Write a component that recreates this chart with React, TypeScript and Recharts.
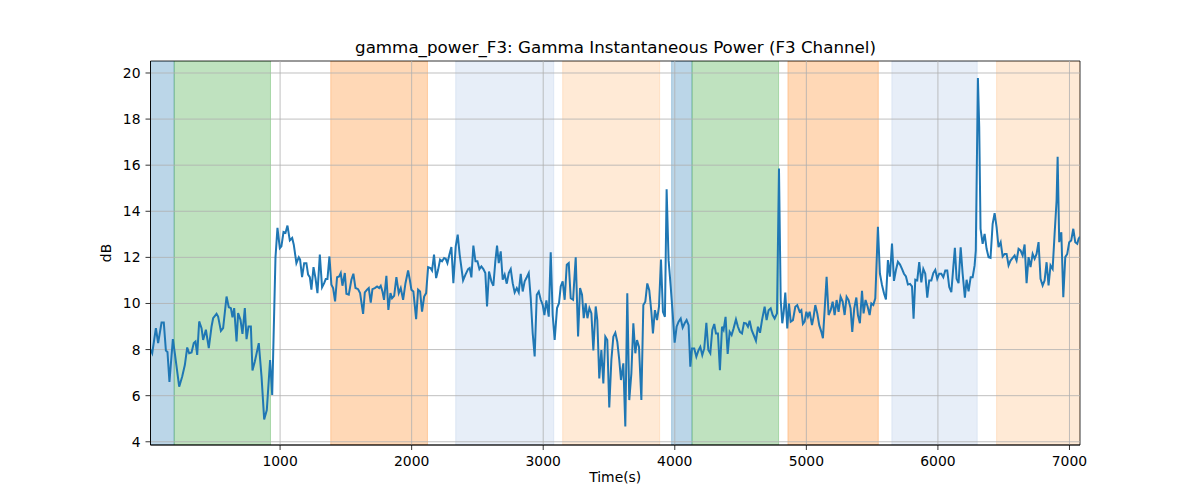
import React from 'react';
import { LineChart, Line, XAxis, YAxis, ReferenceArea, ReferenceLine } from 'recharts';

// time axis (seconds) and the gamma power trace (dB)
const timeSec = [
  15, 28, 56, 73, 99, 116, 132, 144, 159, 185, 200, 233, 256, 276, 294, 309, 327, 344, 357, 370,
  385, 403, 415, 436, 458, 479, 491, 517, 529, 550, 567, 593, 610, 626, 638, 651, 669, 681, 699, 714,
  732, 745, 760, 778, 790, 808, 838, 859, 879, 899, 924, 940, 965, 980, 998, 1010, 1026, 1041, 1056, 1074,
  1092, 1104, 1124, 1142, 1152, 1167, 1183, 1200, 1213, 1226, 1238, 1254, 1269, 1284, 1302, 1319, 1335, 1347, 1360, 1375,
  1390, 1403, 1418, 1433, 1449, 1461, 1474, 1492, 1504, 1522, 1542, 1557, 1573, 1593, 1608, 1631, 1644, 1661, 1674, 1689,
  1702, 1720, 1737, 1753, 1765, 1778, 1790, 1808, 1823, 1839, 1851, 1867, 1884, 1902, 1917, 1935, 1953, 1973, 1986, 1998,
  2013, 2034, 2049, 2064, 2079, 2095, 2110, 2125, 2143, 2155, 2170, 2186, 2201, 2216, 2231, 2247, 2259, 2272, 2287, 2302,
  2317, 2335, 2350, 2365, 2391, 2409, 2429, 2441, 2454, 2469, 2485, 2500, 2515, 2530, 2545, 2560, 2573, 2588, 2606, 2621,
  2636, 2649, 2662, 2677, 2692, 2707, 2723, 2738, 2753, 2768, 2783, 2799, 2814, 2829, 2844, 2859, 2875, 2890, 2905, 2920,
  2935, 2951, 2966, 2981, 2996, 3009, 3024, 3042, 3057, 3072, 3087, 3105, 3120, 3133, 3148, 3163, 3179, 3194, 3209, 3227,
  3247, 3265, 3280, 3295, 3308, 3323, 3336, 3351, 3366, 3381, 3399, 3411, 3426, 3442, 3457, 3472, 3487, 3502, 3518, 3533,
  3548, 3563, 3578, 3591, 3609, 3624, 3639, 3654, 3670, 3685, 3700, 3713, 3728, 3746, 3761, 3776, 3791, 3806, 3822, 3834,
  3849, 3865, 3880, 3895, 3910, 3925, 3938, 3953, 3969, 3984, 3999, 4014, 4029, 4045, 4060, 4075, 4090, 4105, 4118, 4131,
  4148, 4164, 4179, 4194, 4209, 4224, 4240, 4255, 4270, 4285, 4300, 4313, 4328, 4343, 4359, 4371, 4386, 4402, 4417, 4432,
  4447, 4465, 4480, 4495, 4511, 4526, 4541, 4556, 4569, 4584, 4602, 4617, 4632, 4648, 4663, 4683, 4698, 4713, 4729, 4744,
  4759, 4777, 4792, 4805, 4817, 4827, 4840, 4855, 4868, 4881, 4898, 4916, 4931, 4949, 4962, 4974, 4987, 5000, 5012, 5025,
  5043, 5055, 5068, 5083, 5098, 5114, 5126, 5139, 5154, 5169, 5185, 5200, 5215, 5230, 5245, 5260, 5276, 5291, 5306, 5321,
  5336, 5349, 5364, 5380, 5392, 5407, 5423, 5435, 5450, 5466, 5481, 5494, 5509, 5524, 5544, 5559, 5575, 5590, 5605, 5620,
  5635, 5651, 5666, 5681, 5696, 5712, 5727, 5742, 5757, 5772, 5788, 5803, 5815, 5828, 5843, 5858, 5874, 5889, 5904, 5919,
  5934, 5950, 5965, 5980, 5995, 6010, 6026, 6041, 6056, 6071, 6086, 6102, 6117, 6129, 6142, 6157, 6173, 6188, 6205, 6218,
  6233, 6249, 6264, 6279, 6288, 6304, 6314, 6324, 6340, 6355, 6370, 6385, 6400, 6416, 6431, 6446, 6461, 6477, 6492, 6507,
  6522, 6537, 6552, 6568, 6583, 6598, 6613, 6628, 6644, 6659, 6674, 6689, 6704, 6720, 6735, 6750, 6765, 6780, 6796, 6811,
  6826, 6841, 6856, 6872, 6887, 6902, 6910, 6922, 6938, 6953, 6968, 6983, 6998, 7013, 7029, 7044, 7059, 7069, 7080,
];

const gammaDb = [
  8.0, 7.84, 8.93, 8.28, 9.17, 9.17, 7.96, 7.9, 6.6, 8.45, 7.84, 6.39, 6.83, 7.33, 8.09, 7.84, 7.87, 8.28, 8.35, 7.77,
  9.22, 8.93, 8.42, 8.86, 8.06, 9.0, 9.36, 9.55, 9.43, 8.81, 8.93, 10.3, 9.84, 9.8, 9.4, 9.8, 8.35, 9.58, 9.29, 8.68,
  9.8, 8.45, 9.0, 9.0, 7.09, 7.48, 8.28, 6.83, 4.97, 5.38, 7.55, 6.03, 12.0, 13.28, 12.4, 12.48, 13.1, 13.06, 13.38, 12.74,
  12.84, 12.55, 11.75, 12.0, 11.9, 11.14, 11.75, 11.75, 11.25, 11.14, 10.6, 11.58, 11.1, 10.45, 12.12, 10.7, 10.88, 11.06, 11.06, 12.04,
  10.81, 10.67, 10.09, 11.14, 11.17, 11.32, 10.77, 11.32, 10.42, 10.38, 11.03, 11.29, 10.67, 10.62, 10.45, 9.55, 10.48, 10.6, 10.67, 10.04,
  10.62, 10.67, 10.74, 10.67, 10.77, 10.52, 10.16, 11.2, 9.72, 10.45, 10.23, 10.33, 11.14, 10.45, 10.67, 10.16, 10.88, 11.43, 11.03, 10.6,
  10.52, 9.32, 10.6, 10.52, 9.65, 10.3, 10.45, 11.58, 11.54, 11.43, 12.12, 11.1, 11.46, 11.9, 11.83, 11.97, 11.94, 11.75, 12.12, 12.45,
  10.88, 12.48, 12.99, 12.12, 11.0, 11.25, 11.49, 11.54, 11.13, 12.51, 11.83, 11.83, 11.49, 11.61, 11.49, 11.32, 9.87, 11.39, 10.96, 10.77,
  11.83, 12.51, 11.75, 12.26, 11.03, 11.25, 10.86, 11.32, 11.49, 10.88, 10.48, 10.67, 10.48, 11.29, 10.52, 10.96, 11.14, 11.32, 10.23, 8.71,
  7.7, 10.38, 10.52, 10.16, 9.94, 9.5, 10.13, 9.43, 12.22, 9.5, 8.42, 9.8, 10.01, 10.74, 10.96, 10.16, 11.68, 11.75, 10.23, 10.16,
  12.0, 8.57, 10.67, 10.38, 9.36, 10.01, 9.36, 9.8, 9.58, 7.96, 9.87, 9.28, 6.75, 7.98, 6.53, 8.56, 8.41, 5.49, 7.55, 8.56,
  8.73, 8.34, 7.55, 6.68, 7.4, 4.66, 10.44, 5.81, 6.97, 9.14, 7.84, 8.41, 8.12, 5.81, 9.93, 10.08, 10.87, 10.58, 9.64, 8.7,
  9.71, 9.28, 9.86, 11.91, 9.64, 9.42, 14.95, 11.88, 10.73, 9.57, 8.3, 8.99, 9.21, 9.35, 8.95, 9.14, 9.28, 9.06, 7.26, 8.05,
  8.05, 7.69, 7.95, 8.12, 7.76, 8.05, 9.16, 7.98, 7.84, 8.85, 9.11, 8.7, 8.7, 7.11, 8.99, 8.85, 9.42, 7.81, 8.77, 8.63,
  8.92, 9.31, 8.99, 8.77, 8.7, 9.16, 9.14, 8.99, 9.25, 8.85, 8.6, 8.38, 8.99, 8.73, 9.28, 9.86, 9.28, 9.71, 9.79, 9.5,
  9.35, 9.57, 15.86, 10.15, 9.14, 9.57, 10.47, 8.92, 10.0, 9.21, 9.28, 9.86, 9.93, 9.64, 9.71, 9.11, 9.21, 9.64, 9.42, 9.64,
  9.06, 9.42, 9.93, 9.57, 9.06, 8.77, 8.49, 9.71, 11.16, 9.5, 9.71, 10.08, 9.5, 10.15, 9.64, 10.29, 10.08, 9.5, 10.29, 10.15,
  9.79, 8.77, 9.79, 10.26, 9.5, 9.14, 10.55, 9.57, 10.15, 9.86, 9.5, 10.0, 9.93, 10.22, 13.33, 11.3, 10.8, 10.44, 10.18, 11.88,
  11.16, 12.6, 10.98, 11.45, 11.81, 11.69, 11.5, 11.29, 11.17, 10.82, 10.85, 10.74, 9.34, 11.03, 11.0, 11.79, 10.92, 11.5, 11.29, 10.25,
  11.0, 11.0, 11.32, 11.46, 11.07, 11.29, 11.29, 11.14, 11.43, 11.43, 10.71, 10.49, 11.58, 12.41, 11.07, 10.88, 12.44, 11.29, 10.25, 11.03,
  10.53, 11.14, 11.14, 11.65, 12.3, 19.78, 17.64, 13.24, 12.59, 13.02, 12.37, 12.01, 11.98, 13.45, 13.92, 13.31, 12.44, 12.66, 12.04, 12.15,
  12.15, 11.65, 11.86, 11.98, 12.08, 11.86, 12.37, 12.3, 12.08, 12.56, 10.88, 12.01, 11.58, 12.15, 11.94, 12.15, 12.66, 11.07, 10.78, 11.0,
  11.79, 10.78, 11.65, 11.5, 13.02, 14.47, 16.37, 12.66, 13.09, 10.27, 12.01, 12.15, 12.66, 12.73, 13.24, 12.66, 12.59, 12.8, 12.9,
];

// shaded epochs (seconds)
const epochStart = [15, 195, 1385, 2335, 3148, 3976, 4131, 4860, 5650, 6446];
const epochEnd = [195, 927, 2120, 3080, 3885, 4131, 4789, 5547, 6299, 7080];
const epochKind = ['a', 'b', 'c', 'd', 'e', 'a', 'b', 'c', 'd', 'e'];

const xTicks = [1000, 2000, 3000, 4000, 5000, 6000, 7000];
const yTicks = [4, 6, 8, 10, 12, 14, 16, 18, 20];

const X_DOMAIN: [number, number] = [15, 7080];
const Y_DOMAIN: [number, number] = [3.86, 20.52];

const kindColor: Record<string, string> = {
  a: '#1f77b4',
  b: '#2ca02c',
  c: '#ff7f0e',
  d: '#aec7e8',
  e: '#ffbb78',
};

const FONT = '"DejaVu Sans", sans-serif';
const GRID = '#b0b0b0';
const tickStyle = { fontSize: 13.9, fill: '#000', fontFamily: FONT };

const data = timeSec.map((t, i) => ({ t, db: gammaDb[i] }));

export default function App() {
  return (
    <div style={{ position: 'relative', width: 1200, height: 500, fontFamily: FONT }}>
      <style>{'body{margin:0;background:#fff}'}</style>
      <LineChart
        width={1200}
        height={500}
        data={data}
        margin={{ top: 61, right: 120, bottom: 15, left: 90.5 }}
      >
        {epochStart.map((s, i) => (
          <ReferenceArea
            key={'ep' + i}
            x1={s}
            x2={epochEnd[i]}
            fill={kindColor[epochKind[i]]}
            fillOpacity={0.3}
            stroke={kindColor[epochKind[i]]}
            strokeOpacity={0.3}
            ifOverflow="hidden"
          />
        ))}
        {/* grid drawn over the shaded spans, like matplotlib */}
        {xTicks.map((t) => (
          <ReferenceLine key={'gx' + t} x={t} stroke={GRID} strokeWidth={0.8} />
        ))}
        {yTicks.map((v) => (
          <ReferenceLine key={'gy' + v} y={v} stroke={GRID} strokeWidth={0.8} />
        ))}
        <XAxis
          type="number"
          dataKey="t"
          domain={X_DOMAIN}
          ticks={xTicks}
          allowDataOverflow
          height={40}
          tick={tickStyle}
          tickSize={5}
          tickMargin={6}
          stroke="#000"
          strokeWidth={0.8}
          label={{ value: 'Time(s)', position: 'insideBottom', offset: 3.5, style: { fontSize: 13.9, fill: '#000', fontFamily: FONT } }}
        />
        <YAxis
          type="number"
          domain={Y_DOMAIN}
          ticks={yTicks}
          allowDataOverflow
          width={60}
          tick={tickStyle}
          tickSize={5}
          tickMargin={5}
          stroke="#000"
          strokeWidth={0.8}
          label={{ value: 'dB', angle: -90, position: 'insideLeft', offset: 16, style: { fontSize: 13.9, fill: '#000', fontFamily: FONT, textAnchor: 'middle' } }}
        />
        <ReferenceArea
          x1={X_DOMAIN[0]}
          x2={X_DOMAIN[1]}
          y1={Y_DOMAIN[0]}
          y2={Y_DOMAIN[1]}
          fill="none"
          stroke="#000"
          strokeWidth={0.8}
          ifOverflow="visible"
        />
        <Line
          type="linear"
          dataKey="db"
          stroke="#1f77b4"
          strokeWidth={2}
          dot={false}
          isAnimationActive={false}
        />
      </LineChart>
      <svg width={1200} height={500} style={{ position: 'absolute', left: 0, top: 0, pointerEvents: 'none' }}>
        <text x={615.5} y={52.5} textAnchor="middle" fontSize={16.7} fontFamily={FONT} fill="#000">
          gamma_power_F3: Gamma Instantaneous Power (F3 Channel)
        </text>
      </svg>
    </div>
  );
}
